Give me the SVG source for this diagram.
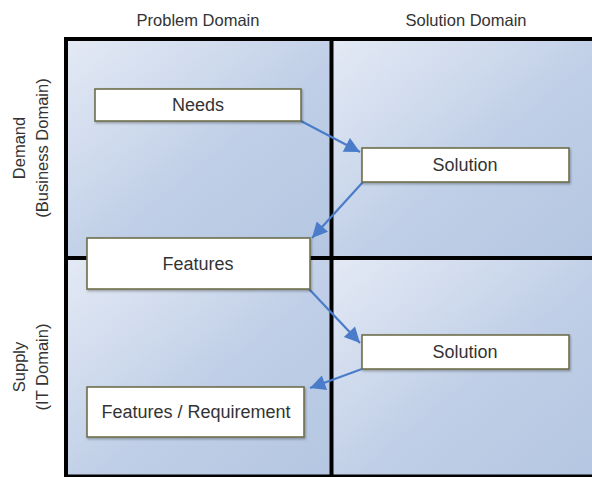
<svg xmlns="http://www.w3.org/2000/svg" width="592" height="477" viewBox="0 0 592 477">
<defs>
<linearGradient id="q" x1="0" y1="0" x2="1" y2="1">
<stop offset="0" stop-color="#e4eaf5"/>
<stop offset="0.55" stop-color="#c0cfe7"/>
<stop offset="1" stop-color="#b4c6e1"/>
</linearGradient>
<marker id="ah" viewBox="0 0 10 10" refX="10" refY="5" markerWidth="8" markerHeight="7" orient="auto" markerUnits="strokeWidth">
<path d="M0,0 L10,5 L0,10 Z" fill="#4a7cc9"/>
</marker>
<filter id="sh" x="-5%" y="-10%" width="110%" height="130%">
<feDropShadow dx="1" dy="1.5" stdDeviation="1" flood-color="#000" flood-opacity="0.3"/>
</filter>
</defs>
<style>
.lbl{font-family:"Liberation Sans",Arial,sans-serif;font-size:16.5px;fill:#333;text-anchor:middle}
.box{fill:#fff;stroke:#6e6e4c;stroke-width:1.6;filter:url(#sh)}
.txt{font-family:"Liberation Sans",Arial,sans-serif;font-size:18px;fill:#333;text-anchor:middle}
.frame{stroke:#000;stroke-width:4;fill:none}
.con{stroke:#4a7cc9;stroke-width:2.2;fill:none;marker-end:url(#ah)}
</style>
<rect width="592" height="477" fill="#fff"/>
<g id="headers">
<text class="lbl" x="198" y="26">Problem Domain</text>
<text class="lbl" x="466" y="26">Solution Domain</text>
<text class="lbl" transform="translate(25,148) rotate(-90)">Demand</text>
<text class="lbl" transform="translate(48,148) rotate(-90)">(Business Domain)</text>
<text class="lbl" transform="translate(25,367) rotate(-90)">Supply</text>
<text class="lbl" transform="translate(48,367) rotate(-90)">(IT Domain)</text>
</g>
<g id="grid">
<rect x="66" y="39" width="265.5" height="219" fill="url(#q)"/>
<rect x="331.5" y="39" width="262" height="219" fill="url(#q)"/>
<rect x="66" y="258" width="265.5" height="219" fill="url(#q)"/>
<rect x="331.5" y="258" width="262" height="219" fill="url(#q)"/>
<path class="frame" d="M66,478 V39 H594 M331.5,39 V478 M66,258 H594 M66,476.5 H594"/>
</g>
<g id="connectors">
<line class="con" x1="301" y1="121" x2="360" y2="152"/>
<line class="con" x1="363" y1="182" x2="312" y2="238"/>
<line class="con" x1="309" y1="289" x2="360" y2="343"/>
<line class="con" x1="362" y1="369" x2="310" y2="388"/>
</g>
<g id="needs">
<rect class="box" x="95" y="89" width="206" height="32"/>
<text class="txt" x="198" y="111">Needs</text>
</g>
<g id="solution1">
<rect class="box" x="362" y="148" width="207" height="34"/>
<text class="txt" x="465" y="171">Solution</text>
</g>
<g id="features">
<rect class="box" x="87" y="238" width="223" height="51"/>
<text class="txt" x="198" y="270">Features</text>
</g>
<g id="solution2">
<rect class="box" x="362" y="335" width="207" height="34"/>
<text class="txt" x="465" y="358">Solution</text>
</g>
<g id="featreq">
<rect class="box" x="87" y="387" width="217" height="50"/>
<text class="txt" x="196" y="418">Features / Requirement</text>
</g>
</svg>
